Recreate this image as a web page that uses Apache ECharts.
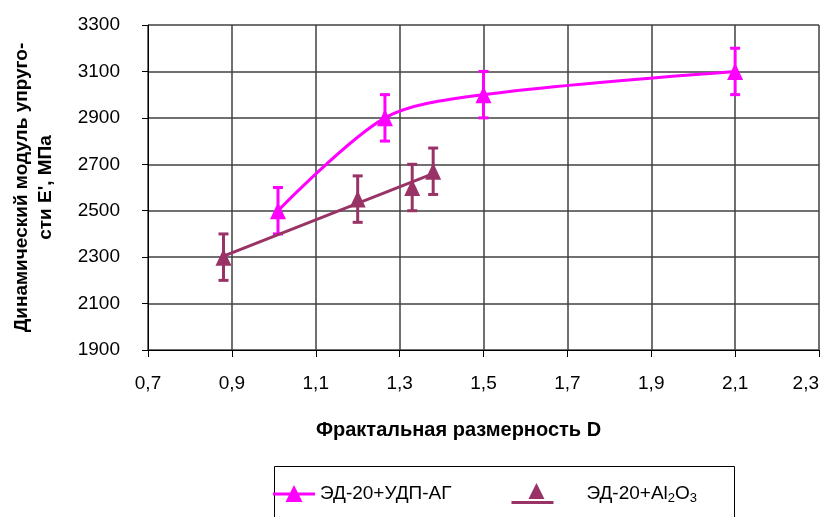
<!DOCTYPE html>
<html>
<head>
<meta charset="utf-8">
<script src="https://cdn.jsdelivr.net/npm/echarts@6/dist/echarts.min.js"></script>
<style>
  html, body { margin: 0; padding: 0; background: #fff; }
  #chart { width: 822px; height: 517px; }
</style>
</head>
<body>
<div id="chart"></div>
<script>
// ЭД-20+УДП-АГ
var xUdp = [1.01, 1.265, 1.5, 2.1];
var yUdp = [2500, 2900, 3000, 3100];
var errUdp = [100, 100, 100, 100];
// ЭД-20+Al2O3
var xAl = [0.88, 1.2, 1.33, 1.38];
var yAl = [2300, 2550, 2600, 2670];
var errAl = [100, 100, 100, 100];

var nameUdp = 'ЭД-20+УДП-АГ';
var nameAl = 'ЭД-20+Al2O3';
var pink = '#FF00FF';
var plum = '#993366';
var font = '"Liberation Sans", Arial, sans-serif';

function pairs(xs, ys) {
  return xs.map(function (x, i) { return [x, ys[i]]; });
}
function triples(xs, ys, es) {
  return xs.map(function (x, i) { return [x, ys[i], es[i]]; });
}

// linear trend for the Al2O3 points (least squares)
function linearTrend(xs, ys) {
  var n = xs.length, mx = 0, my = 0, sxx = 0, sxy = 0;
  for (var i = 0; i < n; i++) { mx += xs[i] / n; my += ys[i] / n; }
  for (var j = 0; j < n; j++) {
    sxx += (xs[j] - mx) * (xs[j] - mx);
    sxy += (xs[j] - mx) * (ys[j] - my);
  }
  var b = sxy / sxx, a = my - b * mx;
  var x0 = Math.min.apply(null, xs), x1 = Math.max.apply(null, xs);
  return [[x0, a + b * x0], [x1, a + b * x1]];
}

function errorBar(params, api) {
  var x = api.value(0), y = api.value(1), e = api.value(2);
  var hi = api.coord([x, y + e]), lo = api.coord([x, y - e]);
  var w = 5;
  var st = { stroke: api.visual('color'), lineWidth: 3 };
  return {
    type: 'group',
    children: [
      { type: 'line', shape: { x1: hi[0], y1: hi[1], x2: lo[0], y2: lo[1] }, style: st },
      { type: 'line', shape: { x1: hi[0] - w, y1: hi[1], x2: hi[0] + w, y2: hi[1] }, style: st },
      { type: 'line', shape: { x1: lo[0] - w, y1: lo[1], x2: lo[0] + w, y2: lo[1] }, style: st }
    ]
  };
}

var chart = echarts.init(document.getElementById('chart'));
chart.setOption({
  animation: false,
  textStyle: { fontFamily: font },
  grid: { left: 148, right: 0, top: 25, bottom: 167 },
  xAxis: {
    type: 'value',
    min: 0.7,
    max: 2.3,
    interval: 0.2,
    name: 'Фрактальная размерность D',
    nameLocation: 'middle',
    nameGap: 70,
    nameTextStyle: { fontSize: 20, fontWeight: 'bold', color: '#000', padding: [0, 50, 0, 0] },
    axisLine: { lineStyle: { color: '#000', width: 1 } },
    axisTick: { show: true, length: 7, lineStyle: { color: '#000' } },
    axisLabel: {
      fontSize: 19, color: '#000', margin: 24, alignMaxLabel: 'right',
      formatter: function (v) { return v.toFixed(1).replace('.', ','); }
    },
    splitLine: { show: true, lineStyle: { color: '#404040', width: 1.5 } }
  },
  yAxis: {
    type: 'value',
    min: 1900,
    max: 3300,
    interval: 200,
    name: 'Динамический модуль упруго-\nсти E\', МПа',
    nameLocation: 'middle',
    nameRotate: 90,
    nameGap: 90,
    nameTextStyle: { fontSize: 19, fontWeight: 'bold', color: '#000', lineHeight: 24 },
    axisLine: { show: true, lineStyle: { color: '#000', width: 1 } },
    axisTick: { show: true, length: 6, lineStyle: { color: '#000' } },
    axisLabel: {
      fontSize: 19, color: '#000', margin: 28,
      formatter: function (v) { return String(v); }
    },
    splitLine: { show: true, lineStyle: { color: '#404040', width: 1.5 } }
  },
  legend: {
    left: 273,
    top: 483,
    padding: 0,
    itemWidth: 42,
    itemHeight: 22,
    itemGap: 60,
    selectedMode: false,
    textStyle: {
      fontSize: 19,
      color: '#000',
      rich: {
        a: { fontSize: 19, color: '#000' },
        a0: { fontSize: 19, color: '#000', padding: [0, 0, 0, 28] },
        s: { fontSize: 13, color: '#000', padding: [9, 0, 0, 0] }
      }
    },
    formatter: function (name) {
      if (name === nameAl) return '{a0|ЭД-20+Al}{s|2}{a|O}{s|3}';
      return name;
    },
    data: [
      { name: nameUdp, icon: 'path://M0,7.5L42,7.5L42,10.5L0,10.5Z M21,0L29.5,17L12.5,17Z' },
      { name: nameAl, icon: 'path://M0,18L42,18L42,21L0,21Z M25,0L33,16L17,16Z' }
    ]
  },
  graphic: [{
    type: 'rect',
    left: 272,
    top: 464,
    shape: { width: 460, height: 70 },
    style: { fill: 'none', stroke: '#000', lineWidth: 1 },
    silent: true
  }],
  series: [
    {
      name: nameUdp + ' err',
      type: 'custom',
      renderItem: errorBar,
      itemStyle: { color: pink },
      encode: { x: 0, y: 1 },
      data: triples(xUdp, yUdp, errUdp),
      z: 3
    },
    {
      name: nameAl + ' err',
      type: 'custom',
      renderItem: errorBar,
      itemStyle: { color: plum },
      encode: { x: 0, y: 1 },
      data: triples(xAl, yAl, errAl),
      z: 3
    },
    {
      name: nameUdp,
      type: 'line',
      smooth: 0.3,
      symbol: 'triangle',
      symbolSize: [16, 17],
      itemStyle: { color: pink },
      lineStyle: { color: pink, width: 3 },
      data: pairs(xUdp, yUdp),
      z: 4
    },
    {
      name: 'trend',
      type: 'line',
      showSymbol: false,
      symbol: 'none',
      lineStyle: { color: plum, width: 3 },
      itemStyle: { color: plum },
      data: linearTrend(xAl, yAl),
      z: 4
    },
    {
      name: nameAl,
      type: 'scatter',
      symbol: 'triangle',
      symbolSize: [16, 17],
      itemStyle: { color: plum, opacity: 1 },
      data: pairs(xAl, yAl),
      z: 5
    }
  ]
});
</script>
</body>
</html>
